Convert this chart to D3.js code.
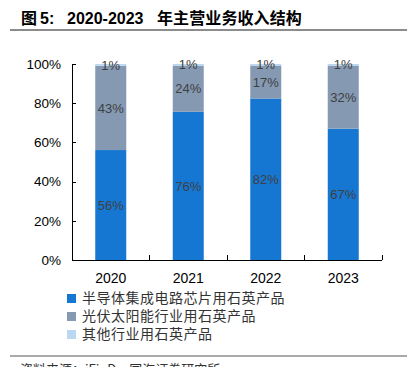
<!DOCTYPE html>
<meta charset="utf-8">
<style>
html, body {
  margin: 0;
  background: #fff;
}
svg {
  display: block;
}
.axis path, .axis line {
  stroke: #000;
  shape-rendering: crispEdges;
}
.axis text {
  font-family: Arial, "Liberation Sans", sans-serif;
  fill: #000;
}
.seg-label {
  font-family: Arial, "Liberation Sans", sans-serif;
  font-size: 13px;
  fill: #404040;
}
.legend text {
  font-family: "Noto Sans CJK SC", sans-serif;
  font-size: 14px;
  letter-spacing: 0.5px;
  fill: #333;
}
.title {
  font-family: Arial, "Liberation Sans", "Noto Sans CJK SC", sans-serif;
  font-weight: bold;
  font-size: 16px;
  fill: #000;
}
.title .cjk {
  font-family: "Noto Sans CJK SC", sans-serif;
}
</style>
<body>
<svg width="407" height="367"></svg>
</body>
<script src="https://cdn.jsdelivr.net/npm/d3@7"></script>
<script>

var years = ["2020", "2021", "2022", "2023"]
var semiconductor = [56.1, 75.6, 82.4, 67.0]
var photovoltaic = [43.0, 23.6, 16.8, 32.2]
var others = [0.9, 0.8, 0.8, 0.8]
var seriesNames = ["半导体集成电路芯片用石英产品", "光伏太阳能行业用石英产品", "其他行业用石英产品"]
var colors = ["#1677d2", "#8599b2", "#bcd7f1"]
var yTicks = [0, 0.2, 0.4, 0.6, 0.8, 1]

var svg = d3.select("svg")

// title, pieces placed like the original layout
var title = svg.append("text").attr("class", "title").attr("y", 24)
title.append("tspan").attr("class", "cjk").attr("x", 21).text("图")
title.append("tspan").attr("x", 40).text("5:")
title.append("tspan").attr("x", 67).text("2020-2023")
title.append("tspan").attr("class", "cjk").attr("x", 157)
  .style("letter-spacing", "0.1px")
  .text("年主营业务收入结构")

svg.append("line")
  .attr("x1", 10).attr("x2", 407)
  .attr("y1", 30).attr("y2", 30)
  .attr("stroke", "#8c8c8c")
  .attr("stroke-width", 2)

var x = d3.scaleBand().domain(years).range([72, 382])
var y = d3.scaleLinear().domain([0, 1]).range([260, 64])
var barW = x.bandwidth() * 0.4

var table = years.map(function(yr, i) {
  return { year: yr, s0: semiconductor[i], s1: photovoltaic[i], s2: others[i] }
})
var stack = d3.stack().keys(["s0", "s1", "s2"])
var layers = stack(table)

var g = svg.append("g")
layers.forEach(function(layer, k) {
  g.selectAll(".bar" + k)
    .data(layer)
    .enter().append("rect")
      .attr("x", function(d) { return x(d.data.year) + (x.bandwidth() - barW) / 2 })
      .attr("width", barW)
      .attr("y", function(d) { return y(d[1] / 100) })
      .attr("height", function(d) { return y(d[0] / 100) - y(d[1] / 100) })
      .attr("fill", colors[k])
})

// segment labels
layers.forEach(function(layer) {
  g.selectAll(null)
    .data(layer)
    .enter().append("text")
      .attr("class", "seg-label")
      .attr("x", function(d) { return x(d.data.year) + x.bandwidth() / 2 })
      .attr("y", function(d) { return y((d[0] + d[1]) / 200) })
      .attr("dy", "0.36em")
      .attr("text-anchor", "middle")
      .text(function(d) { return d3.format(".0f")(d[1] - d[0]) + "%" })
})

// y axis, ticks inside
var yAxis = svg.append("g")
  .attr("class", "axis")
  .attr("transform", "translate(72,0)")
  .call(d3.axisRight(y).tickValues(yTicks).tickFormat(d3.format(".0%")).tickSize(4).tickSizeOuter(0))
yAxis.selectAll("text")
  .attr("x", -11)
  .attr("text-anchor", "end")
  .style("font-size", "13.5px")

// x axis: ticks at band edges, pointing up
var xAxis = svg.append("g")
  .attr("class", "axis")
  .attr("transform", "translate(0,260)")
xAxis.append("line")
  .attr("x1", 72).attr("x2", 382)
  .attr("y1", 0).attr("y2", 0)
xAxis.selectAll(".edge")
  .data(years)
  .enter().append("line")
    .attr("x1", function(d) { return x(d) + x.bandwidth() })
    .attr("x2", function(d) { return x(d) + x.bandwidth() })
    .attr("y1", 0).attr("y2", -5)
xAxis.selectAll(".lbl")
  .data(years)
  .enter().append("text")
    .attr("x", function(d) { return x(d) + x.bandwidth() / 2 })
    .attr("y", 23)
    .attr("text-anchor", "middle")
    .style("font-size", "14px")
    .text(function(d) { return d })

// legend
var legend = svg.append("g").attr("class", "legend")
var item = legend.selectAll("g")
  .data(seriesNames)
  .enter().append("g")
    .attr("transform", function(d, i) { return "translate(67," + (294 + i * 18) + ")" })
item.append("rect")
  .attr("width", 9).attr("height", 9)
  .attr("fill", function(d, i) { return colors[i] })
item.append("text")
  .attr("x", 15)
  .attr("y", 9)
  .text(function(d) { return d })

// source
svg.append("line")
  .attr("x1", 10).attr("x2", 407)
  .attr("y1", 356).attr("y2", 356)
  .attr("stroke", "#8c8c8c")
  .attr("stroke-width", 1.5)
svg.append("text")
  .attr("x", 20)
  .attr("y", 374)
  .style("font-family", "'Noto Sans CJK SC', sans-serif")
  .style("font-size", "13px")
  .attr("fill", "#333")
  .text("资料来源：iFinD，国海证券研究所")

</script>
